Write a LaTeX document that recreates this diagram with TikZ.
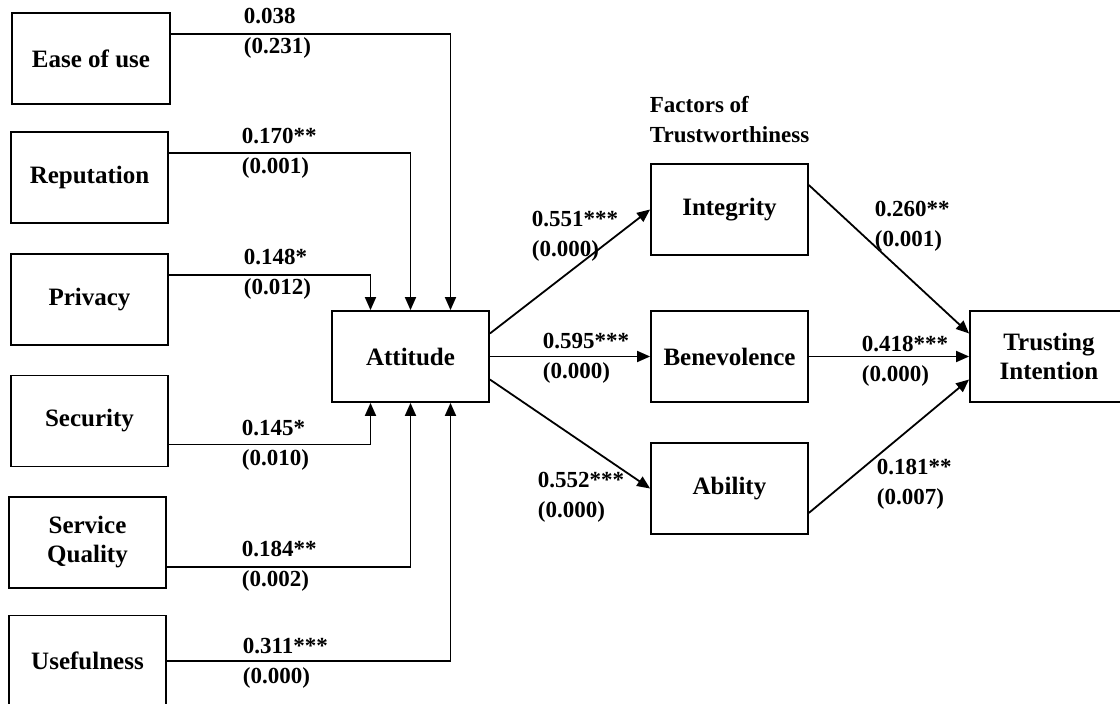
\documentclass[tikz,border=0pt]{standalone}
\usepackage{fontspec}
\setmainfont{Liberation Serif}
\usetikzlibrary{arrows.meta}

\begin{document}
\begin{tikzpicture}[x=1pt, y=-1pt, line width=1.8pt,
    font=\fontsize{23}{30}\selectfont\bfseries]
    \tikzstyle{box} = [rectangle, minimum width=157pt, minimum height=91pt, text centered, align=center, draw=black, fill=white, inner sep=0pt, font=\fontsize{25}{29}\selectfont\bfseries]
    \tikzstyle{coef} = [anchor=west, align=left, inner sep=0pt]
    \tikzstyle{arr} = [-{Triangle[length=13pt,width=11pt]}]

    \useasboundingbox (0,0) rectangle (1120,704);
    \clip (0,0) rectangle (1120,704);

    % antecedents
    \node [box, minimum width=158pt] (ease) at (91,58.5) {Ease of use};
    \node [box] (reputation) at (89.5,177.5) {Reputation};
    \node [box] (privacy) at (89.5,299.5) {Privacy};
    \node [box] (security) at (89.5,421) {Security};
    \node [box] (quality) at (87.5,542.5) {Service\\Quality};
    \node [box] (usefulness) at (87.5,661) {Usefulness};

    \node [box] (attitude) at (410.5,356.5) {Attitude};

    % factors of trustworthiness
    \node [coef] (factors) at (649,120) {Factors of\\Trustworthiness};
    \node [box] (integrity) at (729.5,209.5) {Integrity};
    \node [box] (benevolence) at (729.5,356.5) {Benevolence};
    \node [box] (ability) at (729.5,488.5) {Ability};

    \node [box, minimum width=158pt] (trusting) at (1049,356.5) {Trusting\\Intention};

    % paths into attitude
    \draw [arr] ([yshift=-22pt]ease.north east) -| ([xshift=40pt]attitude.north);
    \draw [arr] ([yshift=-22pt]reputation.north east) -| (attitude.north);
    \draw [arr] ([yshift=-22pt]privacy.north east) -| ([xshift=-40pt]attitude.north);
    \draw [arr] ([yshift=23pt]security.south east) -| ([xshift=-40pt]attitude.south);
    \draw [arr] ([yshift=22pt]quality.south east) -| (attitude.south);
    \draw [arr] (usefulness.east) -| ([xshift=40pt]attitude.south);

    \node [coef] (c-ease) at (243,33) {0.038\\(0.231)};
    \node [coef] (c-reputation) at (241,153.5) {0.170**\\(0.001)};
    \node [coef] (c-privacy) at (243,274) {0.148*\\(0.012)};
    \node [coef] (c-security) at (241,445) {0.145*\\(0.010)};
    \node [coef] (c-quality) at (241,566.5) {0.184**\\(0.002)};
    \node [coef] (c-usefulness) at (242,663) {0.311***\\(0.000)};

    % attitude to trustworthiness
    \draw [arr] ([yshift=23pt]attitude.east) -- (integrity.west);
    \draw [arr] (attitude.east) -- (benevolence.west);
    \draw [arr] ([yshift=-23pt]attitude.east) -- (ability.west);

    \node [coef] (c-integrity) at (531,236) {0.551***\\(0.000)};
    \node [coef] (c-benevolence) at (542,358) {0.595***\\(0.000)};
    \node [coef] (c-ability) at (537,497.5) {0.552***\\(0.000)};

    % trustworthiness to trusting intention
    \draw [arr] ([yshift=-22pt]integrity.north east) -- ([yshift=23pt]trusting.west);
    \draw [arr] (benevolence.east) -- (trusting.west);
    \draw [arr] ([yshift=22pt]ability.south east) -- ([yshift=-23pt]trusting.west);

    \node [coef] (t-integrity) at (874,226.5) {0.260**\\(0.001)};
    \node [coef] (t-benevolence) at (861,361) {0.418***\\(0.000)};
    \node [coef] (t-ability) at (876,484.5) {0.181**\\(0.007)};

  \end{tikzpicture}
\end{document}
